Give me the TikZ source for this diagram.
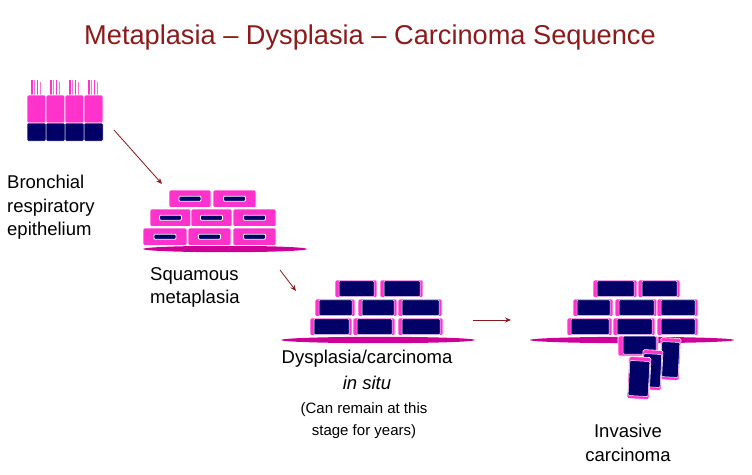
\documentclass[tikz,border=0pt]{standalone}
\usepackage{fontspec}
\setmainfont{Liberation Sans}
\usetikzlibrary{arrows.meta}
\begin{document}
\begin{tikzpicture}[x=1pt,y=-1pt,
  pk/.style={fill=pinkc,draw=white,line width=0.6pt,rounded corners=1.5pt},
  nv/.style={fill=navyc,draw=white,line width=0.5pt,rounded corners=1pt},
  arr/.style={draw=arrc,line width=0.8pt,-{Stealth[length=6pt,width=5pt]}},
  lbl/.style={font=\fontsize{18.5}{23.5}\selectfont,align=center,inner sep=0pt}]
\definecolor{pinkc}{HTML}{FF33CC}
\definecolor{navyc}{HTML}{000066}
\definecolor{basec}{HTML}{CC0099}
\definecolor{arrc}{HTML}{8B1A1A}
\definecolor{titc}{HTML}{8B1A1A}
\useasboundingbox (0,0) rectangle (752,474);
\node[text=titc,font=\fontsize{27.2}{30}\selectfont] (title) at (370,37) {Metaplasia – Dysplasia – Carcinoma Sequence};
% bronchial epithelium
\foreach \x in {27,46,65,84}{
  \fill[pinkc] (\x+4,80) rectangle (\x+5.5,95);
  \fill[pinkc!70] (\x+7,80) rectangle (\x+8,95);
  \fill[pinkc] (\x+9.5,80) rectangle (\x+11,95);
  \fill[pinkc!70] (\x+12.5,82) rectangle (\x+13.5,95);
  \draw[pk] (\x,95) rectangle (\x+19,123);
  \draw[nv] (\x,123) rectangle (\x+19,141);
}
\coordinate (a1s) at (114,130); \coordinate (a1e) at (162,184);
\draw[arr] (a1s) -- (a1e);
\node[lbl,align=left,anchor=north west] (bre) at (7,175) {Bronchial\\respiratory\\epithelium};
% squamous metaplasia
\fill[basec] (225,249) ellipse (82 and 3.2);
\foreach \a/\b/\y in {143/187/228,188/231/228,233/276/228,150/191/209,191/232/209,233/276/209,169/211/190,213/256/190}{
  \draw[pk] (\a,\y) rectangle (\b,\y+17.5);
  \draw[nv,line width=0.8pt] ({(\a+\b)/2-11},\y+6.2) rectangle ({(\a+\b)/2+11},\y+11.3);
}
\node[lbl,align=left,anchor=north west] (sqm) at (150,267) {Squamous\\metaplasia};
\coordinate (a2s) at (280,270); \coordinate (a2e) at (296,291);
\draw[arr] (a2s) -- (a2e);
% dysplasia
\fill[basec] (378,340) ellipse (97 and 3.2);
\foreach \a/\b/\y in {310/352/318,353/395/318,398/443/318,315/355/299,358/397/299,398/442/299,335/377/280,380/423/280}{
  \draw[pk] (\a,\y) rectangle (\b,\y+17.5);
  \draw[nv] (\a+4,\y+0.8) rectangle (\b-3,\y+16.7);
}
\node[lbl] (dys) at (367,359) {Dysplasia/carcinoma};
\node[lbl,font=\fontsize{18.5}{22}\selectfont\itshape] (insitu) at (367,383) {in situ};
\node[lbl,font=\fontsize{15}{22}\selectfont] (can) at (364,421) {(Can remain at this\\stage for years)};
\coordinate (a3s) at (473,320); \coordinate (a3e) at (511,320);
\draw[arr] (a3s) -- (a3e);
% invasive
\fill[basec] (632,340) ellipse (102 and 3.2);
\foreach \a/\b/\y in {567/612/318,613/655/318,657/698/318,573/613/299,615/657/299,657/698/299,593/637/280,638/680/280}{
  \draw[pk] (\a,\y) rectangle (\b,\y+17.5);
  \draw[nv] (\a+4,\y+0.8) rectangle (\b-3,\y+16.7);
}
\draw[pk] (618,336) rectangle (658,356);
\draw[nv] (623,336) rectangle (656,354);
\foreach \a/\b/\y/\z/\r in {660/680/338/380/-3,642/662/350/390/-3,628/650/357/399/-3}{
  \begin{scope}[rotate around={\r:({(\a+\b)/2},{(\y+\z)/2})}]
  \draw[pk] (\a,\y) rectangle (\b,\z);
  \draw[nv] (\a+1,\y+4) rectangle (\b-1,\z-3);
  \end{scope}
}
\node[lbl] (inv) at (628,443) {Invasive\\carcinoma};
\end{tikzpicture}
\end{document}
